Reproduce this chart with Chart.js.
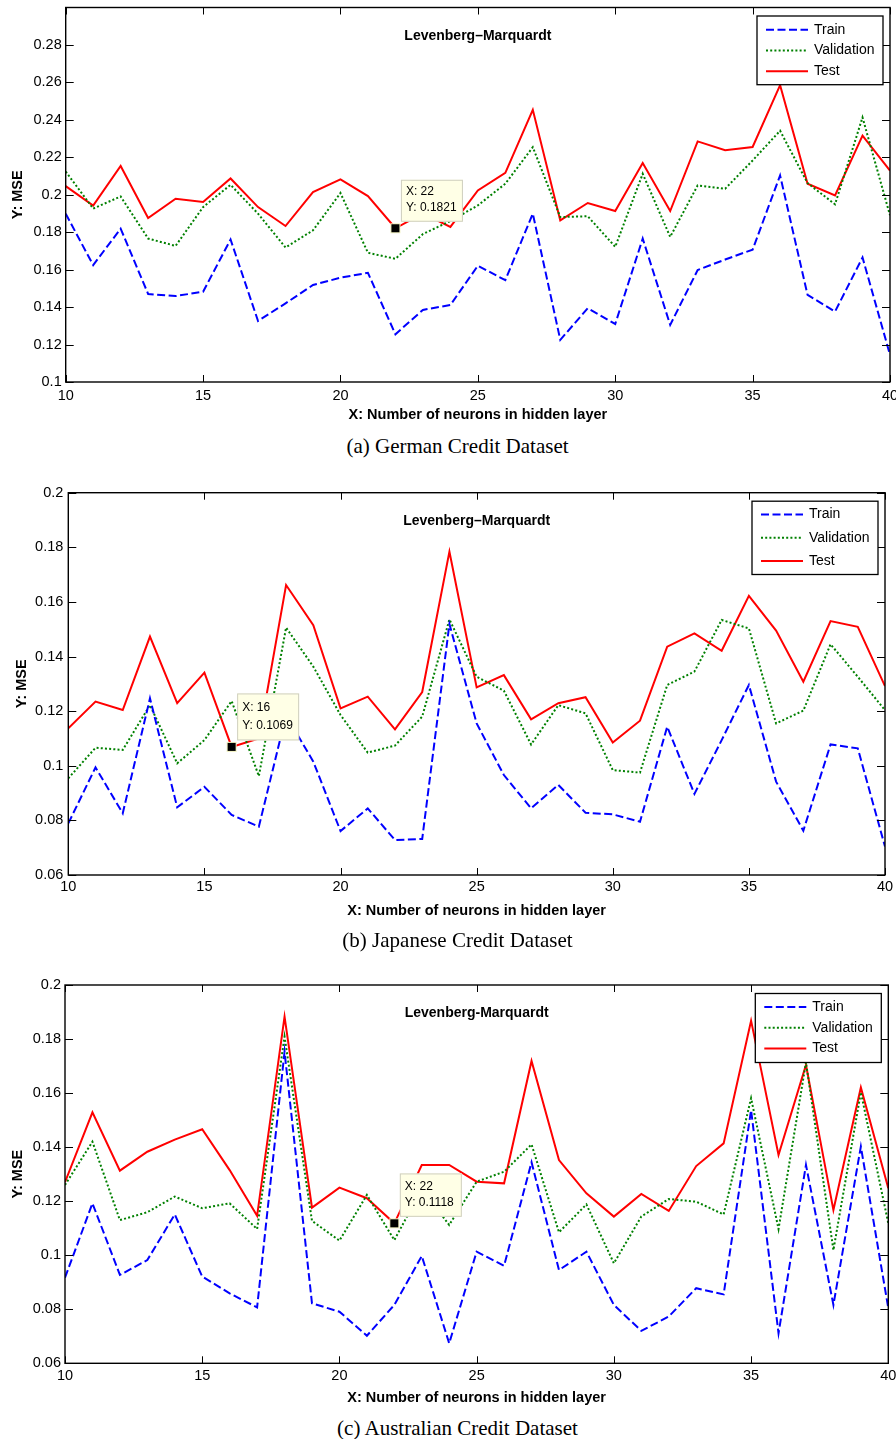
<!DOCTYPE html>
<html>
<head>
<meta charset="utf-8">
<title>Levenberg-Marquardt MSE</title>
<script src="https://cdn.jsdelivr.net/npm/chart.js@4.4.1/dist/chart.umd.min.js"></script>
<style>
  body { margin: 0; background: #fff; width: 896px; height: 1439px; position: relative; overflow: hidden; }
  .plot { position: absolute; left: 0; width: 896px; }
  .caption { position: absolute; left: 0; width: 915px; text-align: center; color: #000;
             font-family: "Liberation Serif", "Times New Roman", serif; font-size: 21px; line-height: 24px; }
</style>
</head>
<body>
<div class="plot" style="top:0px;height:430px"><canvas id="germanChart"></canvas></div>
<div class="caption" style="top:434px">(a) German Credit Dataset</div>
<div class="plot" style="top:470px;height:460px"><canvas id="japaneseChart"></canvas></div>
<div class="caption" style="top:928px">(b) Japanese Credit Dataset</div>
<div class="plot" style="top:965px;height:450px"><canvas id="australianChart"></canvas></div>
<div class="caption" style="top:1416px">(c) Australian Credit Dataset</div>

<script>
// Number of neurons in hidden layer
const neurons = [10, 11, 12, 13, 14, 15, 16, 17, 18, 19, 20, 21, 22, 23, 24, 25,
                 26, 27, 28, 29, 30, 31, 32, 33, 34, 35, 36, 37, 38, 39, 40];
const xTicks = [10, 15, 20, 25, 30, 35, 40];
const germanYTicks = [0.1, 0.12, 0.14, 0.16, 0.18, 0.2, 0.22, 0.24, 0.26, 0.28];
const creditYTicks = [0.06, 0.08, 0.1, 0.12, 0.14, 0.16, 0.18, 0.2];

// (a) German
const germanTrain = [0.1899, 0.1624, 0.1819, 0.1470, 0.1459, 0.1482, 0.1761, 0.1326, 0.1420, 0.1518, 0.1557,
                     0.1583, 0.1255, 0.1385, 0.1411, 0.1621, 0.1544, 0.1899, 0.1225, 0.1394, 0.1310,
                     0.1766, 0.1305, 0.1598, 0.1654, 0.1707, 0.2103, 0.1465, 0.1376, 0.1665, 0.1145];
const germanValidation = [0.2124, 0.1926, 0.1991, 0.1766, 0.1727, 0.1934, 0.2053, 0.1899, 0.1718, 0.1810, 0.2009,
                          0.1690, 0.1658, 0.1790, 0.1860, 0.1943, 0.2059, 0.2254, 0.1881, 0.1885, 0.1722,
                          0.2112, 0.1775, 0.2050, 0.2032, 0.2183, 0.2342, 0.2062, 0.1949, 0.2413, 0.1890];
const germanTest = [0.2046, 0.1942, 0.2154, 0.1876, 0.1979, 0.1961, 0.2087, 0.1934, 0.1833, 0.2014, 0.2082,
                    0.1993, 0.1821, 0.1900, 0.1828, 0.2023, 0.2117, 0.2454, 0.1863, 0.1956, 0.1913,
                    0.2170, 0.1913, 0.2285, 0.2238, 0.2255, 0.2585, 0.2059, 0.1996, 0.2316, 0.2129];
const germanTip = [22, 0.1821];

// (b) Japanese
const japaneseTrain = [0.0789, 0.0994, 0.0826, 0.1247, 0.0848, 0.0923, 0.0820, 0.0777, 0.1185, 0.1015, 0.0761,
                       0.0844, 0.0728, 0.0732, 0.1519, 0.1155, 0.0966, 0.0844, 0.0930, 0.0828, 0.0822,
                       0.0795, 0.1143, 0.0897, 0.1094, 0.1296, 0.0942, 0.0762, 0.1078, 0.1064, 0.0704];
const japaneseValidation = [0.0954, 0.1066, 0.1058, 0.1222, 0.1009, 0.1094, 0.1237, 0.0962, 0.1506, 0.1363, 0.1186,
                            0.1048, 0.1074, 0.1180, 0.1536, 0.1326, 0.1275, 0.1078, 0.1222, 0.1192, 0.0984,
                            0.0975, 0.1296, 0.1345, 0.1534, 0.1503, 0.1155, 0.1202, 0.1445, 0.1326, 0.1204];
const japaneseTest = [0.1137, 0.1235, 0.1204, 0.1473, 0.1229, 0.1341, 0.1069, 0.1100, 0.1662, 0.1515, 0.1210,
                      0.1253, 0.1133, 0.1270, 0.1784, 0.1287, 0.1332, 0.1170, 0.1229, 0.1251, 0.1085,
                      0.1165, 0.1436, 0.1485, 0.1421, 0.1622, 0.1495, 0.1308, 0.1530, 0.1509, 0.1292];
const japaneseTip = [16, 0.1069];

// (c) Australian
const australianTrain = [0.0917, 0.1192, 0.0927, 0.0982, 0.1151, 0.0921, 0.0859, 0.0807, 0.1753, 0.0822, 0.0791,
                         0.0702, 0.0816, 0.0997, 0.0674, 0.1013, 0.0961, 0.1344, 0.0945, 0.1013, 0.0816,
                         0.0720, 0.0773, 0.0878, 0.0855, 0.1537, 0.0711, 0.1334, 0.0816, 0.1402, 0.0804];
const australianValidation = [0.1260, 0.1420, 0.1130, 0.1159, 0.1217, 0.1174, 0.1192, 0.1097, 0.1809, 0.1127, 0.1054,
                              0.1223, 0.1056, 0.1245, 0.1112, 0.1272, 0.1309, 0.1410, 0.1085, 0.1188, 0.0970,
                              0.1143, 0.1208, 0.1198, 0.1151, 0.1581, 0.1097, 0.1714, 0.1019, 0.1603, 0.1118];
const australianTest = [0.1270, 0.1529, 0.1313, 0.1383, 0.1428, 0.1466, 0.1315, 0.1146, 0.1883, 0.1176, 0.1250,
                        0.1211, 0.1118, 0.1334, 0.1334, 0.1272, 0.1266, 0.1719, 0.1352, 0.1229, 0.1143,
                        0.1227, 0.1164, 0.1330, 0.1414, 0.1868, 0.1371, 0.1704, 0.1167, 0.1621, 0.1248];
const australianTip = [22, 0.1118];

const FONT = '"Liberation Sans", Arial, Helvetica, sans-serif';
Chart.defaults.font.family = FONT;
Chart.defaults.color = '#000';

// MATLAB-like frame, inward ticks, inside title, legend box and data tip
const matlabAxes = {
  id: 'matlabAxes',
  afterDatasetsDraw(chart, args, opts) {
    const ctx = chart.ctx;
    const a = chart.chartArea;
    const xs = chart.scales.x, ys = chart.scales.y;
    ctx.save();

    // inward tick marks on all four sides
    ctx.strokeStyle = '#000';
    ctx.lineWidth = 1;
    ctx.beginPath();
    xs.ticks.forEach(t => {
      const px = Math.round(xs.getPixelForValue(t.value)) + 0.5;
      ctx.moveTo(px, a.bottom); ctx.lineTo(px, a.bottom - 7);
      ctx.moveTo(px, a.top); ctx.lineTo(px, a.top + 7);
    });
    ys.ticks.forEach(t => {
      const py = Math.round(ys.getPixelForValue(t.value)) + 0.5;
      ctx.moveTo(a.left, py); ctx.lineTo(a.left + 8, py);
      ctx.moveTo(a.right, py); ctx.lineTo(a.right - 8, py);
    });
    ctx.stroke();

    // frame
    ctx.lineWidth = 1.4;
    ctx.strokeRect(a.left, a.top, a.right - a.left, a.bottom - a.top);

    // title inside the axes
    ctx.fillStyle = '#000';
    ctx.font = 'bold 14px ' + FONT;
    ctx.textAlign = 'center';
    ctx.textBaseline = 'middle';
    ctx.fillText(opts.title, (a.left + a.right) / 2, a.top + 28.5);

    // data tip
    const mx = xs.getPixelForValue(opts.tip[0]);
    const my = ys.getPixelForValue(opts.tip[1]);
    const bx = mx + 5.5, bh = opts.tipH, by = my - 6.5 - bh;
    ctx.fillStyle = '#ffffe6';
    ctx.strokeStyle = '#cfcfbf';
    ctx.lineWidth = 1;
    ctx.fillRect(bx, by, 62, bh);
    ctx.strokeRect(bx + 0.5, by + 0.5, 61, bh - 1);
    ctx.fillStyle = '#000';
    ctx.font = '12px ' + FONT;
    ctx.textAlign = 'left';
    ctx.fillText('X: ' + opts.tip[0], bx + 5, by + opts.tipRow1);
    ctx.fillText('Y: ' + opts.tip[1], bx + 5, by + opts.tipRow1 + opts.tipStep);
    ctx.fillStyle = '#f0f0c0';
    ctx.fillRect(mx - 5, my - 5, 10, 10);
    ctx.fillStyle = '#000';
    ctx.fillRect(mx - 4, my - 4, 8, 8);

    // legend box
    const lw = 126, lh = opts.legendH;
    const lx = a.right - 7 - lw, ly = a.top + 8.5;
    ctx.fillStyle = '#fff';
    ctx.fillRect(lx, ly, lw, lh);
    ctx.strokeStyle = '#000';
    ctx.lineWidth = 1.3;
    ctx.strokeRect(lx, ly, lw, lh);
    ctx.font = '14px ' + FONT;
    chart.data.datasets.forEach((ds, i) => {
      const ry = ly + opts.legendFirst + i * opts.legendStep;
      ctx.strokeStyle = ds.borderColor;
      ctx.lineWidth = ds.borderWidth;
      ctx.setLineDash(ds.borderDash || []);
      ctx.beginPath();
      ctx.moveTo(lx + 9, ry);
      ctx.lineTo(lx + 51, ry);
      ctx.stroke();
      ctx.setLineDash([]);
      ctx.fillStyle = '#000';
      ctx.fillText(ds.label, lx + 57, ry);
    });
    ctx.restore();
  }
};

function fixedWidth(w) {
  return s => { s.width = w; s.paddingTop = 0; s.paddingBottom = 0; };
}
function fixedHeight(h) {
  return s => { s.height = h; s.paddingLeft = 0; s.paddingRight = 0; };
}

function makeChart(id, train, validation, test, yTicks, yMin, yMax, g) {
  const pts = arr => neurons.map((x, i) => ({ x: x, y: arr[i] }));
  return new Chart(document.getElementById(id), {
    type: 'line',
    data: {
      datasets: [
        { label: 'Train', data: pts(train), borderColor: '#0000ff', borderWidth: 2, borderDash: [8, 3.5] },
        { label: 'Validation', data: pts(validation), borderColor: '#008000', borderWidth: 2, borderDash: [2, 2.2] },
        { label: 'Test', data: pts(test), borderColor: '#ff0000', borderWidth: 2 }
      ]
    },
    options: {
      responsive: true,
      maintainAspectRatio: false,
      animation: false,
      elements: { point: { radius: 0 }, line: { tension: 0, fill: false } },
      layout: { padding: { top: g.top, right: g.right, left: 0, bottom: 0 } },
      plugins: {
        legend: { display: false },
        tooltip: { enabled: false },
        matlabAxes: { title: g.title, tip: g.tip, tipH: g.tipH, tipRow1: g.tipRow1, tipStep: g.tipStep,
                      legendH: g.legendH, legendFirst: g.legendFirst, legendStep: g.legendStep }
      },
      scales: {
        x: {
          type: 'linear', min: 10, max: 40,
          afterBuildTicks: s => { s.ticks = xTicks.map(v => ({ value: v })); },
          afterFit: fixedHeight(g.xHeight),
          grid: { display: false, drawTicks: false },
          border: { display: false },
          ticks: { font: { size: 14.5 }, padding: g.xTickPad, maxRotation: 0 },
          title: { display: true, text: 'X: Number of neurons in hidden layer',
                   font: { size: 14.5, weight: 'bold' }, padding: { top: 0, bottom: g.xTitlePad } }
        },
        y: {
          type: 'linear', min: yMin, max: yMax,
          afterBuildTicks: s => { s.ticks = yTicks.map(v => ({ value: v })); },
          afterFit: fixedWidth(g.yWidth),
          grid: { display: false, drawTicks: false },
          border: { display: false },
          ticks: { font: { size: 14.5 }, padding: g.yTickPad, callback: v => String(+v.toFixed(2)) },
          title: { display: true, text: 'Y: MSE',
                   font: { size: 14.5, weight: 'bold' }, padding: { top: g.yTitlePad, bottom: 0 } }
        }
      }
    },
    plugins: [matlabAxes]
  });
}

makeChart('germanChart', germanTrain, germanValidation, germanTest, germanYTicks, 0.1, 0.3, {
  top: 7.5, right: 6, yWidth: 65.7, xHeight: 48, xTickPad: 5, xTitlePad: 6.3, yTickPad: 4, yTitlePad: 9.6,
  title: 'Levenberg–Marquardt', tip: germanTip, tipH: 42, tipRow1: 11.7, tipStep: 16,
  legendH: 68.7, legendFirst: 13.7, legendStep: 20.8
});
makeChart('japaneseChart', japaneseTrain, japaneseValidation, japaneseTest, creditYTicks, 0.06, 0.2, {
  top: 22.7, right: 11, yWidth: 68.3, xHeight: 55, xTickPad: 3.6, xTitlePad: 10.3, yTickPad: 5, yTitlePad: 13,
  title: 'Levenberg–Marquardt', tip: japaneseTip, tipH: 47, tipRow1: 14.4, tipStep: 18,
  legendH: 73.3, legendFirst: 13.3, legendStep: 23.3
});
makeChart('australianChart', australianTrain, australianValidation, australianTest, creditYTicks, 0.06, 0.2, {
  top: 20, right: 7.7, yWidth: 65, xHeight: 51.7, xTickPad: 4, xTitlePad: 8.6, yTickPad: 4, yTitlePad: 9.6,
  title: 'Levenberg-Marquardt', tip: australianTip, tipH: 43.4, tipRow1: 13.4, tipStep: 16,
  legendH: 69, legendFirst: 13.4, legendStep: 20.8
});
</script>
</body>
</html>
